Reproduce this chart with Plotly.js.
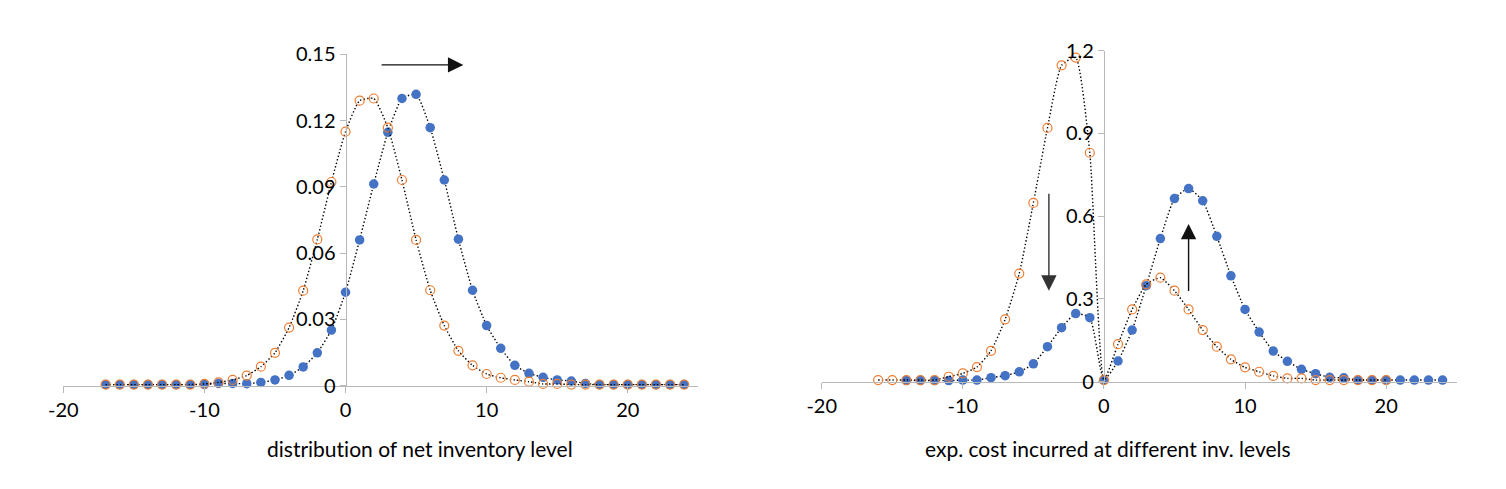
<!DOCTYPE html>
<html>
<head>
<meta charset="utf-8">
<script src="https://cdn.plot.ly/plotly-3.0.1.min.js"></script>
<style>html,body{margin:0;padding:0;background:#fff;}#chart{width:1506px;height:489px;}
svg text{font-variant-ligatures:none;font-feature-settings:"liga" 0;}</style>
</head>
<body>
<div id="chart"></div>
<script>
// ---- data: left chart (distribution of net inventory level) ----
const leftX = [-17,-16,-15,-14,-13,-12,-11,-10,-9,-8,-7,-6,-5,-4,-3,-2,-1,0,1,2,3,4,5,6,7,8,9,10,11,12,13,14,15,16,17,18,19,20,21,22,23,24];
const leftBlue = [0.0005,0.0005,0.0005,0.0005,0.0005,0.0005,0.0005,0.0005,0.001,0.001,0.0009,0.0015,0.0026,0.0047,0.0085,0.0149,0.0252,0.0423,0.0660,0.0913,0.1147,0.1300,0.1319,0.1168,0.0931,0.0663,0.0432,0.0272,0.0169,0.0092,0.0056,0.0038,0.0026,0.0021,0.001,0.0005,0.0005,0.0005,0.0005,0.0005,0.0005,0.0005];
const leftOrange = [0.0005,0.0005,0.0005,0.0005,0.0005,0.0005,0.0005,0.0008,0.0015,0.0026,0.0046,0.0086,0.0149,0.0263,0.0430,0.0662,0.0922,0.1150,0.1290,0.1300,0.1168,0.0931,0.0660,0.0432,0.0272,0.0158,0.0092,0.0053,0.0036,0.0026,0.0018,0.0008,0.0008,0.0005,0.0005,0.0005,0.0005,0.0005,0.0005,0.0005,0.0005,0.0005];

// ---- data: right chart (exp. cost incurred at different inv. levels) ----
const rightBlueX = [-14,-13,-12,-11,-10,-9,-8,-7,-6,-5,-4,-3,-2,-1,0,1,2,3,4,5,6,7,8,9,10,11,12,13,14,15,16,17,18,19,20,21,22,23,24];
const rightBlue = [0.004,0.004,0.004,0.004,0.006,0.006,0.0145,0.022,0.036,0.065,0.127,0.196,0.247,0.232,0.006,0.075,0.187,0.348,0.519,0.664,0.700,0.656,0.527,0.384,0.262,0.180,0.111,0.074,0.045,0.029,0.016,0.014,0.006,0.006,0.006,0.006,0.006,0.006,0.006];
const rightOrangeX = [-16,-15,-14,-13,-12,-11,-10,-9,-8,-7,-6,-5,-4,-3,-2,-1,0,1,2,3,4,5,6,7,8,9,10,11,12,13,14,15,16,17,18,19,20];
const rightOrange = [0.006,0.006,0.006,0.006,0.006,0.018,0.030,0.053,0.112,0.226,0.392,0.648,0.920,1.147,1.175,0.830,0.006,0.136,0.262,0.353,0.377,0.330,0.262,0.187,0.127,0.081,0.052,0.036,0.021,0.012,0.012,0.006,0.006,0.006,0.006,0.006,0.006];

// ---- tick labels ----
const xTickVals = [-20,-10,0,10,20];
const xTickText = ['-20','-10','0','10','20'];
const leftYTickVals = [0,0.03,0.06,0.09,0.12,0.15];
const leftYTickText = ['0','0.03','0.06','0.09','0.12','0.15'];
const rightYTickVals = [0,0.3,0.6,0.9,1.2];
const rightYTickText = ['0','0.3','0.6','0.9','1.2'];
const leftTitle = 'distribution of net inventory level';
const rightTitle = 'exp. cost incurred at different inv. levels';

const W = 1506, H = 489;
const FONT = 'Lato, "Open Sans", sans-serif';
const BLUE = '#4472C4', ORANGE = '#ED7D31', AXIS = '#b8b8b8';
const DOTLINE = {color: '#000', width: 1.4, dash: '1.4px,2.2px', shape: 'spline', smoothing: 0.5};

function blueTrace(x, y, xa, ya) {
  return {x: x, y: y, xaxis: xa, yaxis: ya, type: 'scatter', mode: 'lines+markers',
    line: DOTLINE, marker: {color: BLUE, size: 9.5, line: {width: 0}}, cliponaxis: false, hoverinfo: 'x+y'};
}
function orangeTrace(x, y, xa, ya) {
  return {x: x, y: y, xaxis: xa, yaxis: ya, type: 'scatter', mode: 'lines+markers',
    line: DOTLINE, marker: {color: ORANGE, size: 9, symbol: 'circle-open', line: {width: 1.2, color: ORANGE}}, cliponaxis: false, hoverinfo: 'x+y'};
}

const data = [
  blueTrace(leftX, leftBlue, 'x', 'y'),
  orangeTrace(leftX, leftOrange, 'x', 'y'),
  blueTrace(rightBlueX, rightBlue, 'x2', 'y2'),
  orangeTrace(rightOrangeX, rightOrange, 'x2', 'y2')
];

// pixel layout helpers
const px = v => v / W, py = v => 1 - v / H;
const L = {x0: 63.3, x1: 698.3, y0: 385.7, y1: 54.3};
const R = {x0: 821.7, x1: 1456.7, y0: 381.7, y1: 50.7};
const xr = [-20, 25];

function xaxisDef(dom, anchor) {
  return {domain: dom, range: xr, anchor: anchor, showgrid: false, zeroline: false,
    showline: true, linecolor: AXIS, linewidth: 1.2, ticks: 'outside', ticklen: 6, tickcolor: AXIS,
    tickvals: xTickVals, ticktext: xTickText, tickfont: {family: FONT, size: 20, color: '#000'}, fixedrange: true};
}
function yaxisDef(dom, range, pos, vals, text) {
  return {domain: dom, range: range, anchor: 'free', position: pos, showgrid: false, zeroline: false,
    showline: true, linecolor: AXIS, linewidth: 1.5, ticks: 'outside', ticklen: 6, tickcolor: AXIS,
    tickvals: vals, ticktext: text, tickfont: {family: FONT, size: 20, color: '#000'}, fixedrange: true};
}
const leftZero = L.x0 + (L.x1 - L.x0) * (0 - xr[0]) / (xr[1] - xr[0]);
const rightZero = R.x0 + (R.x1 - R.x0) * (0 - xr[0]) / (xr[1] - xr[0]);

const arrowCommon = {showarrow: true, text: '', arrowhead: 2, arrowsize: 2.2, arrowwidth: 1.4, arrowcolor: '#111'};

const layout = {
  width: W, height: H, margin: {l: 0, r: 0, t: 0, b: 0}, showlegend: false,
  paper_bgcolor: '#fff', plot_bgcolor: 'rgba(0,0,0,0)',
  xaxis: xaxisDef([px(L.x0), px(L.x1)], 'y'),
  yaxis: yaxisDef([py(L.y0), py(L.y1)], [0, 0.15], px(leftZero), leftYTickVals, leftYTickText),
  xaxis2: xaxisDef([px(R.x0), px(R.x1)], 'y2'),
  yaxis2: yaxisDef([py(R.y0), py(R.y1)], [0, 1.2], px(rightZero), rightYTickVals, rightYTickText),
  annotations: [
    Object.assign({}, arrowCommon, {xref: 'x', yref: 'y', axref: 'x', ayref: 'y', x: 8.35, y: 0.1452, ax: 2.45, ay: 0.1452}),
    Object.assign({}, arrowCommon, {xref: 'x2', yref: 'y2', axref: 'x2', ayref: 'y2', x: -3.9, y: 0.33, ax: -3.9, ay: 0.687, arrowcolor: '#333'}),
    Object.assign({}, arrowCommon, {xref: 'x2', yref: 'y2', axref: 'x2', ayref: 'y2', x: 6.0, y: 0.572, ax: 6.0, ay: 0.323}),
    {xref: 'paper', yref: 'paper', x: px(420), y: py(448), text: leftTitle, showarrow: false, xanchor: 'center', yanchor: 'middle', font: {family: FONT, size: 21, color: '#000'}},
    {xref: 'paper', yref: 'paper', x: px(1108), y: py(448), text: rightTitle, showarrow: false, xanchor: 'center', yanchor: 'middle', font: {family: FONT, size: 21, color: '#000'}}
  ]
};

Plotly.newPlot('chart', data, layout, {displayModeBar: false, staticPlot: true});
</script>
</body>
</html>
